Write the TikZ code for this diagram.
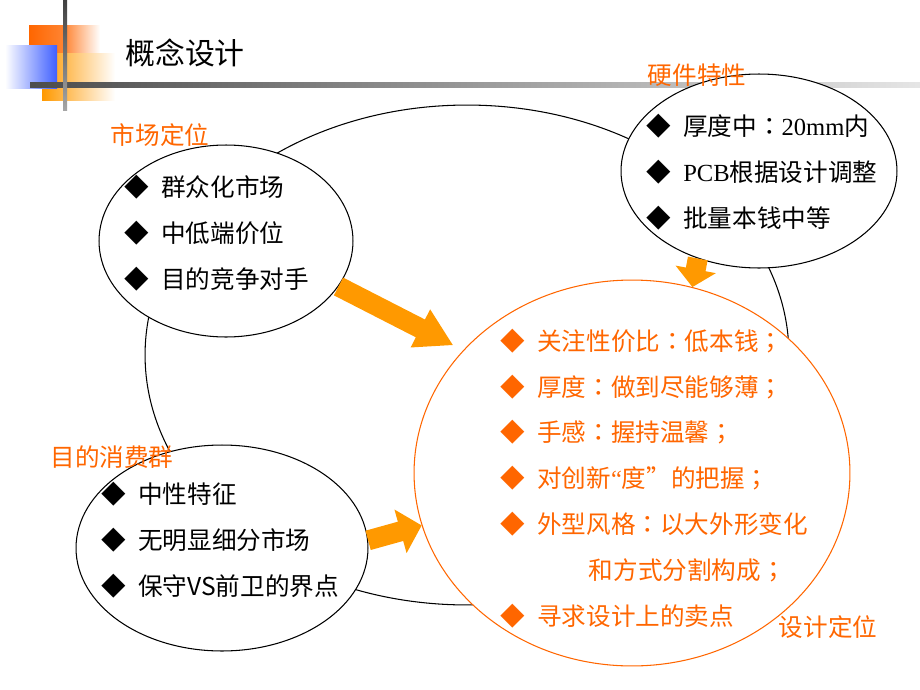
\documentclass[tikz,border=0pt]{standalone}
\usepackage{fontspec}
\setmainfont{Liberation Serif}
\newfontfamily\cjk{Noto Sans CJK SC}
\newfontfamily\cjkjp{Noto Sans CJK JP}
\usetikzlibrary{shapes.geometric,arrows.meta}
\definecolor{orangetxt}{HTML}{FF6600}
\definecolor{orangefleche}{HTML}{FF9900}
\definecolor{bleuvif}{HTML}{3F5FFF}
\newcommand{\puce}{◆\hspace{0.5em}}
\newcommand{\dpt}{{\cjkjp ：}}
\newcommand{\pv}{{\cjkjp ；}}

\begin{document}
\begin{tikzpicture}[x=0.02cm, y=-0.02cm,
    bulle/.style={ellipse, draw, line width=0.6pt, fill=white, inner sep=0pt},
    liste/.style={anchor=west, align=left, inner sep=0pt, font=\cjk\fontsize{14}{26.1}\selectfont},
    etiquette/.style={text=orangetxt, inner sep=0pt, font=\cjk\fontsize{14}{14}\selectfont},
    fleche/.style={draw=orangefleche, line width=0.4cm}]
    \useasboundingbox (0,0) rectangle (920,690);
    % carres du titre
    \shade [left color=orangetxt, right color=white, middle color=orangetxt!80] (29,25) rectangle (100,75);
    \shade [left color=orangefleche, right color=white] (42,53) rectangle (115,100);
    \shade [left color=white, right color=bleuvif] (5,45) rectangle (57,88);
    \shade [left color=black!70, right color=black!10] (30,82) rectangle (920,87);
    \shade [top color=black!75, bottom color=black!35] (63,0) rectangle (67,110);
    \node (titre) [inner sep=0pt, font=\cjk\fontsize{17}{17}\selectfont] at (185,53) {概念设计};
    % les bulles
    \node (anneau) [ellipse, draw, line width=0.6pt, inner sep=0pt, minimum width=12.88cm, minimum height=10cm] at (467,355) {};
    \node (marche) [bulle, minimum width=5.08cm, minimum height=3.84cm] at (226,241) {};
    \node (materiel) [bulle, minimum width=5.52cm, minimum height=3.88cm] at (759,171) {};
    \node (cible) [bulle, minimum width=5.84cm, minimum height=4.12cm] at (222,548) {};
    \node (design) [bulle, draw=orangetxt, minimum width=8.72cm, minimum height=7.72cm] at (632,473) {};
    % fleches
    \draw [fleche, -{Triangle[length=0.74cm, width=0.8cm]}, shorten >=0.22cm] (marche.-22) -- (design.144);
    \draw [fleche, -{Triangle[length=0.36cm, width=0.8cm]}] (materiel.-125) -- (design.72);
    \draw [fleche, -{Triangle[length=0.44cm, width=0.88cm]}] (cible.3) -- (design.194);
    % textes
    \node (lstmarche) [liste] at (124,233.5) {\puce 群众化市场\\ \puce 中低端价位\\ \puce 目的竞争对手};
    \node (lstmateriel) [liste] at (646,172.5) {\puce 厚度中\dpt{\rmfamily 20mm}内\\ \puce {\rmfamily PCB}根据设计调整\\ \puce 批量本钱中等};
    \node (lstcible) [liste] at (101,540) {\puce 中性特征\\ \puce 无明显细分市场\\ \puce 保守VS前卫的界点};
    \node (lstdesign) [liste, text=orangetxt] at (500,478.5) {\puce 关注性价比\dpt 低本钱\pv\\ \puce 厚度\dpt 做到尽能够薄\pv\\ \puce 手感\dpt 握持温馨\pv\\ \puce 对创新{\rmfamily “}度”的把握\pv\\ \puce 外型风格\dpt 以大外形变化\\ \hspace{3.6em}和方式分割构成\pv\\ \puce 寻求设计上的卖点};
    \node (lblmarche) [etiquette] at (160,135) {市场定位};
    \node (lblmateriel) [etiquette] at (697,75) {硬件特性};
    \node (lblcible) [etiquette] at (112,457) {目的消费群};
    \node (lbldesign) [etiquette] at (828,627) {设计定位};
\end{tikzpicture}
\end{document}
